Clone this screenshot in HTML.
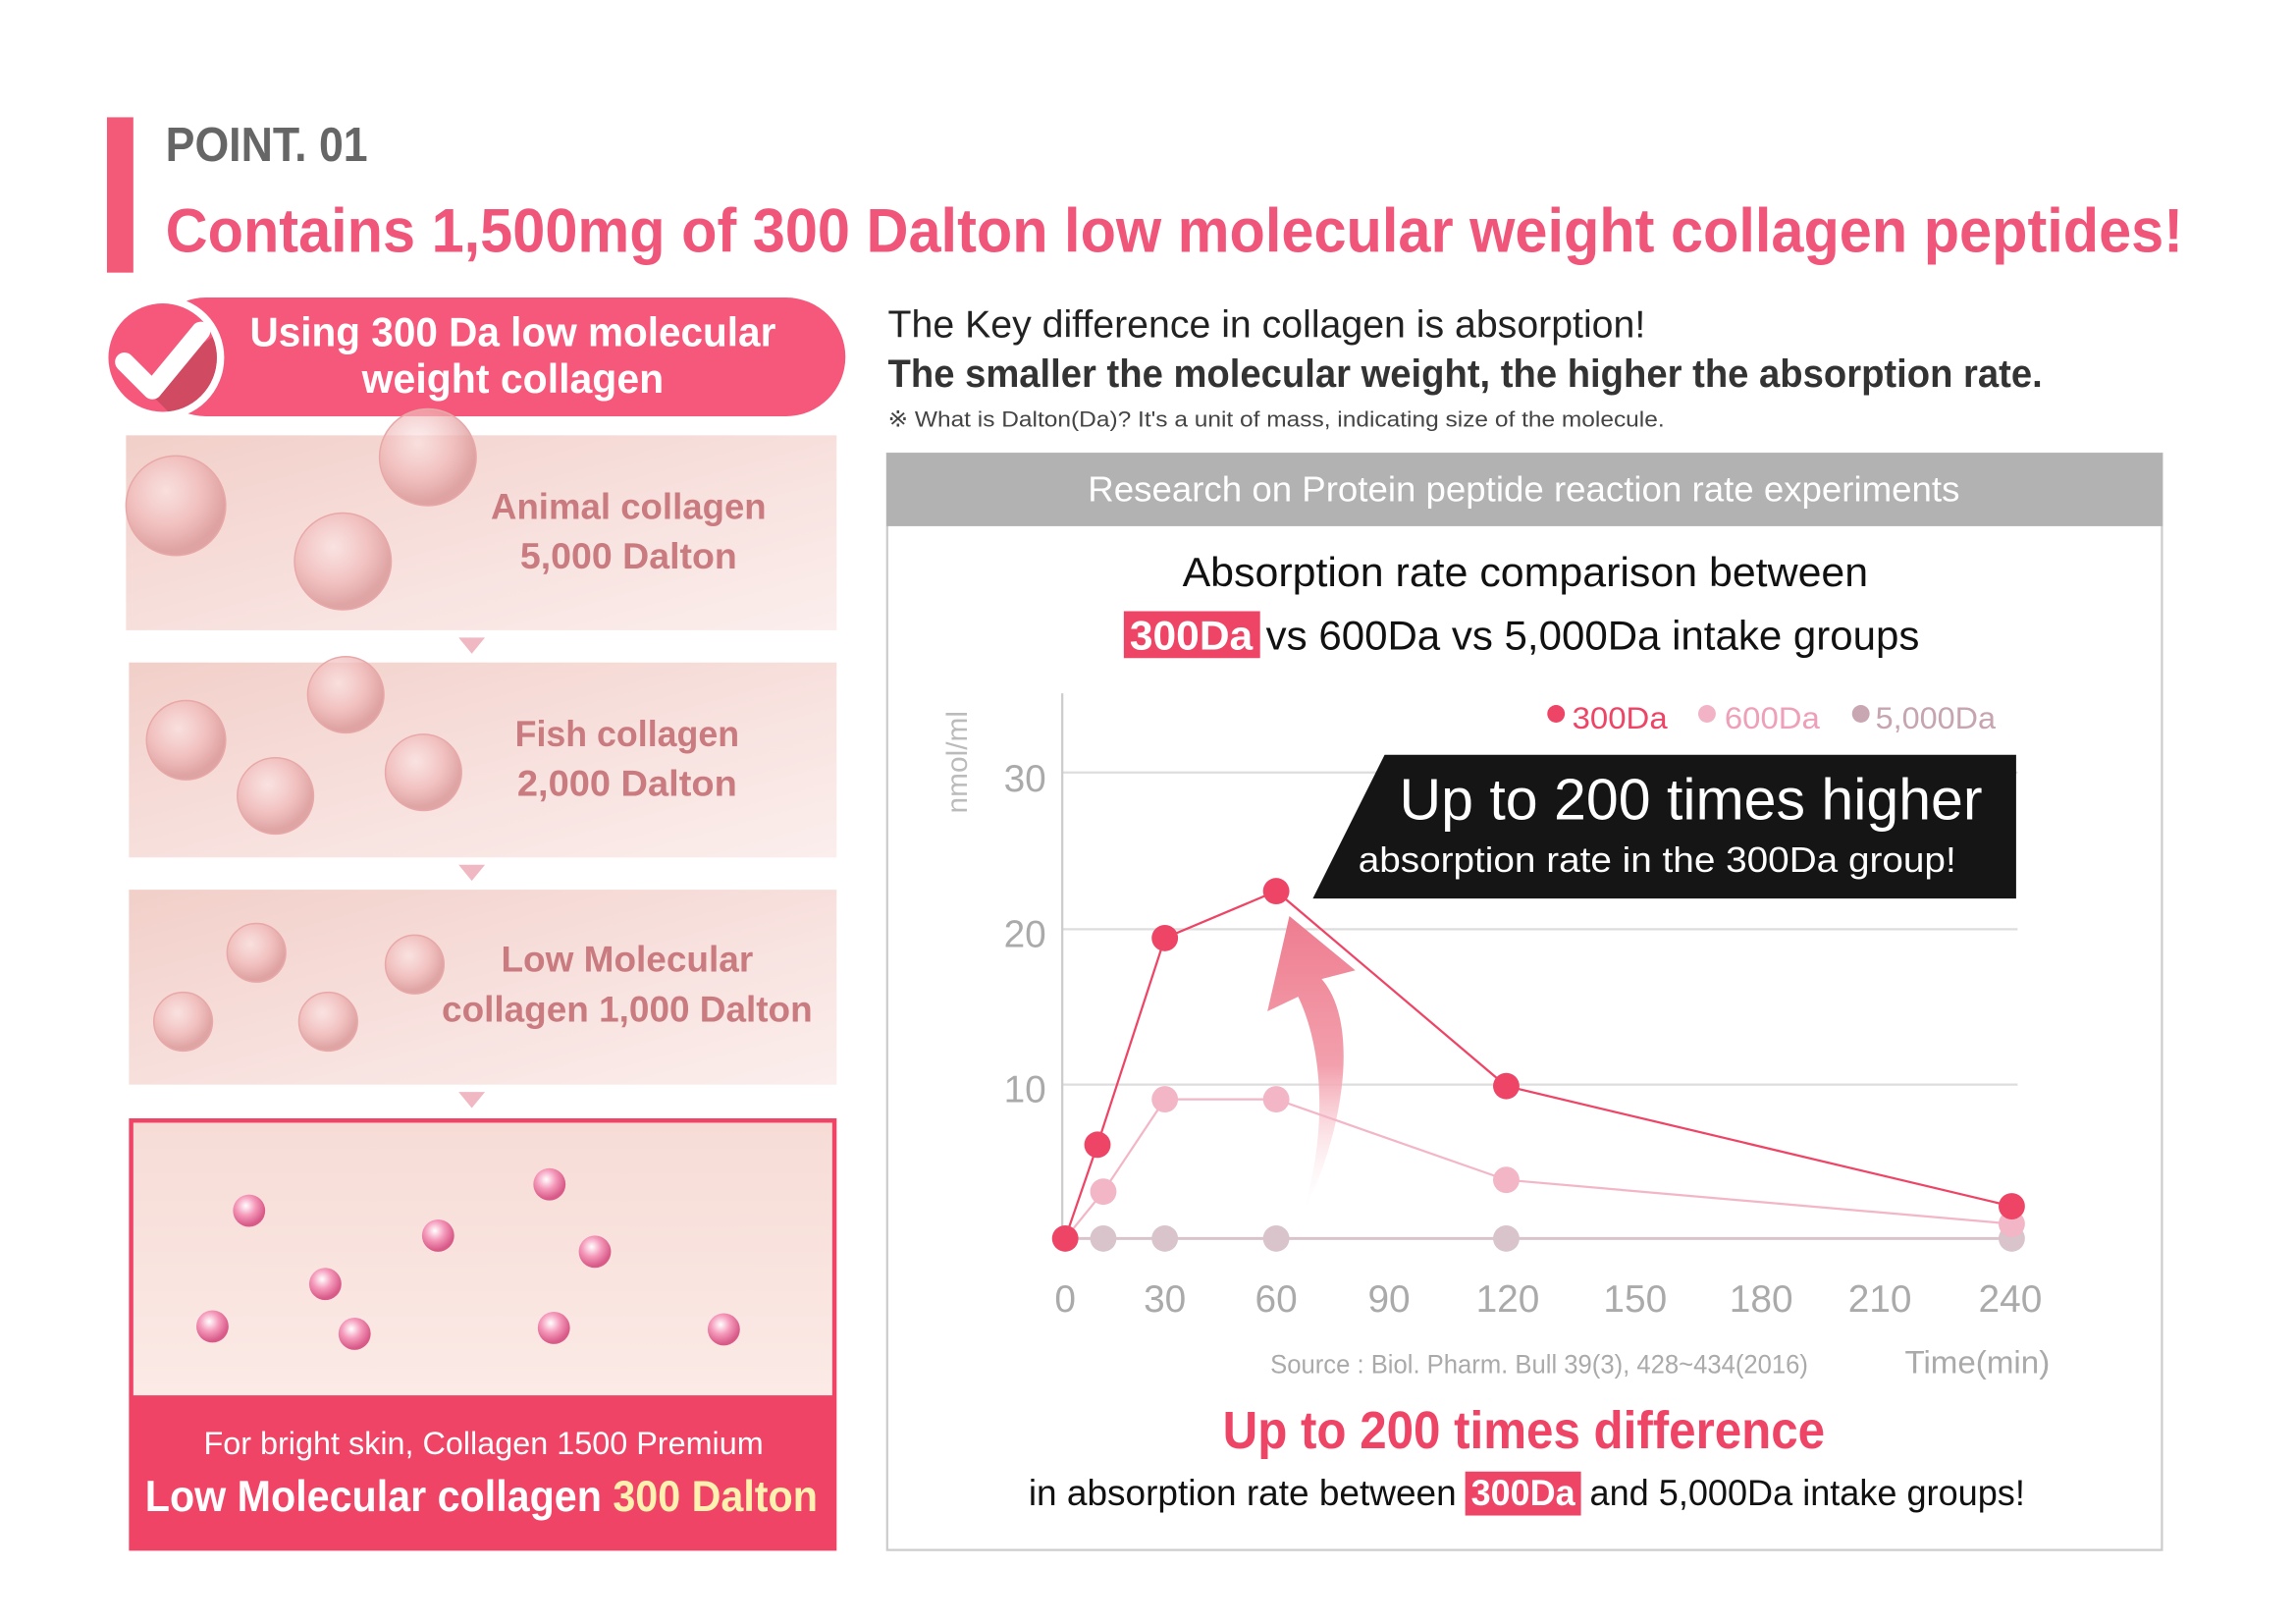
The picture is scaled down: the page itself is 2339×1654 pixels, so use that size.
<!DOCTYPE html>
<html><head><meta charset="utf-8"><style>
html,body{margin:0;padding:0;background:#fff;}
svg{display:block;}
text{font-family:"Liberation Sans",sans-serif;}
</style></head><body>
<svg width="2339" height="1654" viewBox="0 0 1567 1108" preserveAspectRatio="none" xmlns="http://www.w3.org/2000/svg">
<defs>
<linearGradient id="pg" x1="0" y1="0" x2="1" y2="1">
<stop offset="0" stop-color="#f2cfc9"/><stop offset="0.6" stop-color="#f8e3e0"/><stop offset="1" stop-color="#fbeeec"/>
</linearGradient>
<radialGradient id="bub" cx="0.4" cy="0.35" r="0.6">
<stop offset="0" stop-color="#fbe6e6" stop-opacity="0.6"/><stop offset="0.6" stop-color="#efb6b6" stop-opacity="0.7"/><stop offset="1" stop-color="#d99596" stop-opacity="0.8"/>
</radialGradient>
<radialGradient id="sb" cx="0.4" cy="0.35" r="0.6">
<stop offset="0" stop-color="#fff"/><stop offset="0.5" stop-color="#f59abb"/><stop offset="1" stop-color="#d85a88"/>
</radialGradient>
<linearGradient id="bp" x1="0" y1="0" x2="0" y2="1">
<stop offset="0" stop-color="#f7dcd6"/><stop offset="1" stop-color="#fbeae6"/>
</linearGradient>
<linearGradient id="arr" x1="0" y1="1" x2="0" y2="0">
<stop offset="0" stop-color="#fff" stop-opacity="0"/><stop offset="0.5" stop-color="#f3a0ad"/><stop offset="1" stop-color="#ee7d90"/>
</linearGradient>
<clipPath id="cc"><circle cx="111" cy="244" r="37"/></clipPath>
</defs>

<rect x="73" y="80" width="18" height="106" fill="#f25a78"/>
<text x="113" y="110" font-size="33" font-weight="bold" fill="#666" textLength="138" lengthAdjust="spacingAndGlyphs">POINT. 01</text>
<text x="113" y="172" font-size="42" font-weight="bold" fill="#f0557a" textLength="1377" lengthAdjust="spacingAndGlyphs">Contains 1,500mg of 300 Dalton low molecular weight collagen peptides!</text>

<rect x="100" y="203" width="477" height="81" rx="40.5" fill="#f5587a"/>
<circle cx="111" cy="244" r="42" fill="#fff"/>
<circle cx="111" cy="244" r="37" fill="#f5587a"/>
<path d="M96 262 L125 291 L160 260 L145 230 Z" fill="#d04a62" clip-path="url(#cc)"/>
<path d="M85 247 L104 266 L137 226" fill="none" stroke="#fff" stroke-width="13" stroke-linecap="round" stroke-linejoin="round"/>
<text x="350" y="236" font-size="28" font-weight="bold" fill="#fff" text-anchor="middle" textLength="359" lengthAdjust="spacingAndGlyphs">Using 300 Da low molecular</text>
<text x="350" y="268" font-size="28" font-weight="bold" fill="#fff" text-anchor="middle" textLength="206" lengthAdjust="spacingAndGlyphs">weight collagen</text>

<rect x="86" y="297" width="485" height="133" fill="url(#pg)"/>
<g fill="url(#bub)" stroke="#e8a8a8" stroke-width="1">
<circle cx="120" cy="345" r="34"/><circle cx="234" cy="383" r="33"/><circle cx="292" cy="312" r="33"/>
</g>
<text x="429" y="354" font-size="25" font-weight="bold" fill="#c97b80" text-anchor="middle" textLength="188" lengthAdjust="spacingAndGlyphs">Animal collagen</text>
<text x="429" y="388" font-size="25" font-weight="bold" fill="#c97b80" text-anchor="middle" textLength="148" lengthAdjust="spacingAndGlyphs">5,000 Dalton</text>
<polygon points="313,435 331,435 322,446" fill="#f0b8c2"/>

<rect x="88" y="452" width="483" height="133" fill="url(#pg)"/>
<g fill="url(#bub)" stroke="#e8a8a8" stroke-width="1">
<circle cx="127" cy="505" r="27"/><circle cx="188" cy="543" r="26"/><circle cx="236" cy="474" r="26"/><circle cx="289" cy="527" r="26"/>
</g>
<text x="428" y="509" font-size="25" font-weight="bold" fill="#c97b80" text-anchor="middle" textLength="153" lengthAdjust="spacingAndGlyphs">Fish collagen</text>
<text x="428" y="543" font-size="25" font-weight="bold" fill="#c97b80" text-anchor="middle" textLength="150" lengthAdjust="spacingAndGlyphs">2,000 Dalton</text>
<polygon points="313,590 331,590 322,601" fill="#f0b8c2"/>

<rect x="88" y="607" width="483" height="133" fill="url(#pg)"/>
<g fill="url(#bub)" stroke="#e8a8a8" stroke-width="1">
<circle cx="175" cy="650" r="20"/><circle cx="283" cy="658" r="20"/><circle cx="125" cy="697" r="20"/><circle cx="224" cy="697" r="20"/>
</g>
<text x="428" y="663" font-size="25" font-weight="bold" fill="#c97b80" text-anchor="middle" textLength="172" lengthAdjust="spacingAndGlyphs">Low Molecular</text>
<text x="428" y="697" font-size="25" font-weight="bold" fill="#c97b80" text-anchor="middle" textLength="253" lengthAdjust="spacingAndGlyphs">collagen 1,000 Dalton</text>
<polygon points="313,745 331,745 322,756" fill="#f0b8c2"/>

<rect x="88" y="763" width="483" height="295" fill="#ef4466"/>
<rect x="91" y="766" width="477" height="186" fill="url(#bp)"/>
<g fill="url(#sb)">
<circle cx="170" cy="826" r="11"/><circle cx="375" cy="808" r="11"/><circle cx="299" cy="843" r="11"/><circle cx="406" cy="854" r="11"/>
<circle cx="222" cy="876" r="11"/><circle cx="145" cy="905" r="11"/><circle cx="242" cy="910" r="11"/><circle cx="378" cy="906" r="11"/><circle cx="494" cy="907" r="11"/>
</g>
<text x="330" y="992" font-size="22" fill="#fff" text-anchor="middle" textLength="382" lengthAdjust="spacingAndGlyphs">For bright skin, Collagen 1500 Premium</text>
<text x="99" y="1031" font-size="30" font-weight="bold" fill="#fff" textLength="459" lengthAdjust="spacingAndGlyphs">Low Molecular collagen <tspan fill="#fff2b0">300 Dalton</tspan></text>

<text x="606" y="230" font-size="26" fill="#222" textLength="517" lengthAdjust="spacingAndGlyphs">The Key difference in collagen is absorption!</text>
<text x="606" y="264" font-size="27" font-weight="bold" fill="#333" textLength="788" lengthAdjust="spacingAndGlyphs">The smaller the molecular weight, the higher the absorption rate.</text>
<text x="606" y="291" font-size="15" fill="#444" textLength="530" lengthAdjust="spacingAndGlyphs">※ What is Dalton(Da)? It's a unit of mass, indicating size of the molecule.</text>

<rect x="605.5" y="309.5" width="870" height="748" fill="#fff" stroke="#ccc" stroke-width="1.5"/>
<rect x="605" y="309" width="871" height="50" fill="#b2b2b2"/>
<text x="1040" y="342" font-size="24" fill="#fff" text-anchor="middle" textLength="595" lengthAdjust="spacingAndGlyphs">Research on Protein peptide reaction rate experiments</text>
<text x="1041" y="400" font-size="28" fill="#111" text-anchor="middle" textLength="468" lengthAdjust="spacingAndGlyphs">Absorption rate comparison between</text>
<rect x="767" y="417" width="93" height="32" fill="#ee4466"/>
<text x="813" y="443" font-size="28" font-weight="bold" fill="#fff" text-anchor="middle" textLength="84" lengthAdjust="spacingAndGlyphs">300Da</text>
<text x="864" y="443" font-size="28" fill="#111" textLength="446" lengthAdjust="spacingAndGlyphs">vs 600Da vs 5,000Da intake groups</text>

<g stroke="#ddd" stroke-width="1.5">
<line x1="725" y1="527" x2="1377" y2="527"/><line x1="725" y1="634" x2="1377" y2="634"/><line x1="725" y1="740" x2="1377" y2="740"/>
</g>
<line x1="725" y1="473" x2="725" y2="846" stroke="#ccc" stroke-width="1.5"/>
<g font-size="26" fill="#aaa" text-anchor="end">
<text x="714" y="540">30</text><text x="714" y="646">20</text><text x="714" y="752">10</text>
</g>
<text transform="translate(660,520) rotate(-90)" font-size="20" fill="#bbb" text-anchor="middle">nmol/ml</text>
<g font-size="26" fill="#aaa" text-anchor="middle">
<text x="727" y="895">0</text><text x="795" y="895">30</text><text x="871" y="895">60</text><text x="948" y="895">90</text>
<text x="1029" y="895">120</text><text x="1116" y="895">150</text><text x="1202" y="895">180</text><text x="1283" y="895">210</text><text x="1372" y="895">240</text>
</g>
<text x="867" y="937" font-size="18" fill="#aaa" textLength="367" lengthAdjust="spacingAndGlyphs">Source : Biol. Pharm. Bull 39(3), 428~434(2016)</text>
<text x="1300" y="937" font-size="22" fill="#aaa" textLength="99" lengthAdjust="spacingAndGlyphs">Time(min)</text>

<circle cx="1062" cy="487" r="6" fill="#ee4466"/><text x="1073" y="497" font-size="21" fill="#ee4466" textLength="65" lengthAdjust="spacingAndGlyphs">300Da</text>
<circle cx="1165" cy="487" r="6" fill="#f2b3c6"/><text x="1177" y="497" font-size="21" fill="#eea0b8" textLength="65" lengthAdjust="spacingAndGlyphs">600Da</text>
<circle cx="1270" cy="487" r="6" fill="#c9a7b2"/><text x="1280" y="497" font-size="21" fill="#c6a5b0" textLength="82" lengthAdjust="spacingAndGlyphs">5,000Da</text>

<polygon points="945,515 1376,515 1376,613 896,613" fill="#151515"/>
<text x="955" y="559" font-size="40" fill="#fff" textLength="398" lengthAdjust="spacingAndGlyphs">Up to 200 times higher</text>
<text x="927" y="595" font-size="24" fill="#fff" textLength="408" lengthAdjust="spacingAndGlyphs">absorption rate in the 300Da group!</text>

<path d="M888 830 C915 780 930 700 902 668 L925 662 L880 625 L865 690 L886 680 C905 720 905 780 888 830 Z" fill="url(#arr)"/>

<polyline points="727,845 753,845 795,845 871,845 1028,845 1373,845" fill="none" stroke="#d9c4cb" stroke-width="2"/>
<g fill="#d9c4cb"><circle cx="753" cy="845" r="9"/><circle cx="795" cy="845" r="9"/><circle cx="871" cy="845" r="9"/><circle cx="1028" cy="845" r="9"/><circle cx="1373" cy="845" r="9"/></g>
<polyline points="727,845 753,813 795,750 871,750 1028,805 1373,835" fill="none" stroke="#f2b6c7" stroke-width="1.5"/>
<g fill="#f2b6c7"><circle cx="753" cy="813" r="9"/><circle cx="795" cy="750" r="9"/><circle cx="871" cy="750" r="9"/><circle cx="1028" cy="805" r="9"/><circle cx="1373" cy="835" r="9"/></g>
<polyline points="727,845 749,781 795,640 871,608 1028,741 1373,823" fill="none" stroke="#ee4466" stroke-width="1.5"/>
<g fill="#ee4466"><circle cx="727" cy="845" r="9"/><circle cx="749" cy="781" r="9"/><circle cx="795" cy="640" r="9"/><circle cx="871" cy="608" r="9"/><circle cx="1028" cy="741" r="9"/><circle cx="1373" cy="823" r="9"/></g>

<text x="1040" y="988" font-size="36" font-weight="bold" fill="#ee4466" text-anchor="middle" textLength="411" lengthAdjust="spacingAndGlyphs">Up to 200 times difference</text>
<text x="702" y="1027" font-size="25" fill="#111" textLength="292" lengthAdjust="spacingAndGlyphs">in absorption rate between</text>
<rect x="1000" y="1004" width="79" height="30" fill="#ee4466"/>
<text x="1039.5" y="1027" font-size="25" font-weight="bold" fill="#fff" text-anchor="middle" textLength="71" lengthAdjust="spacingAndGlyphs">300Da</text>
<text x="1085" y="1027" font-size="25" fill="#111" textLength="297" lengthAdjust="spacingAndGlyphs">and 5,000Da intake groups!</text>
</svg>
</body></html>
